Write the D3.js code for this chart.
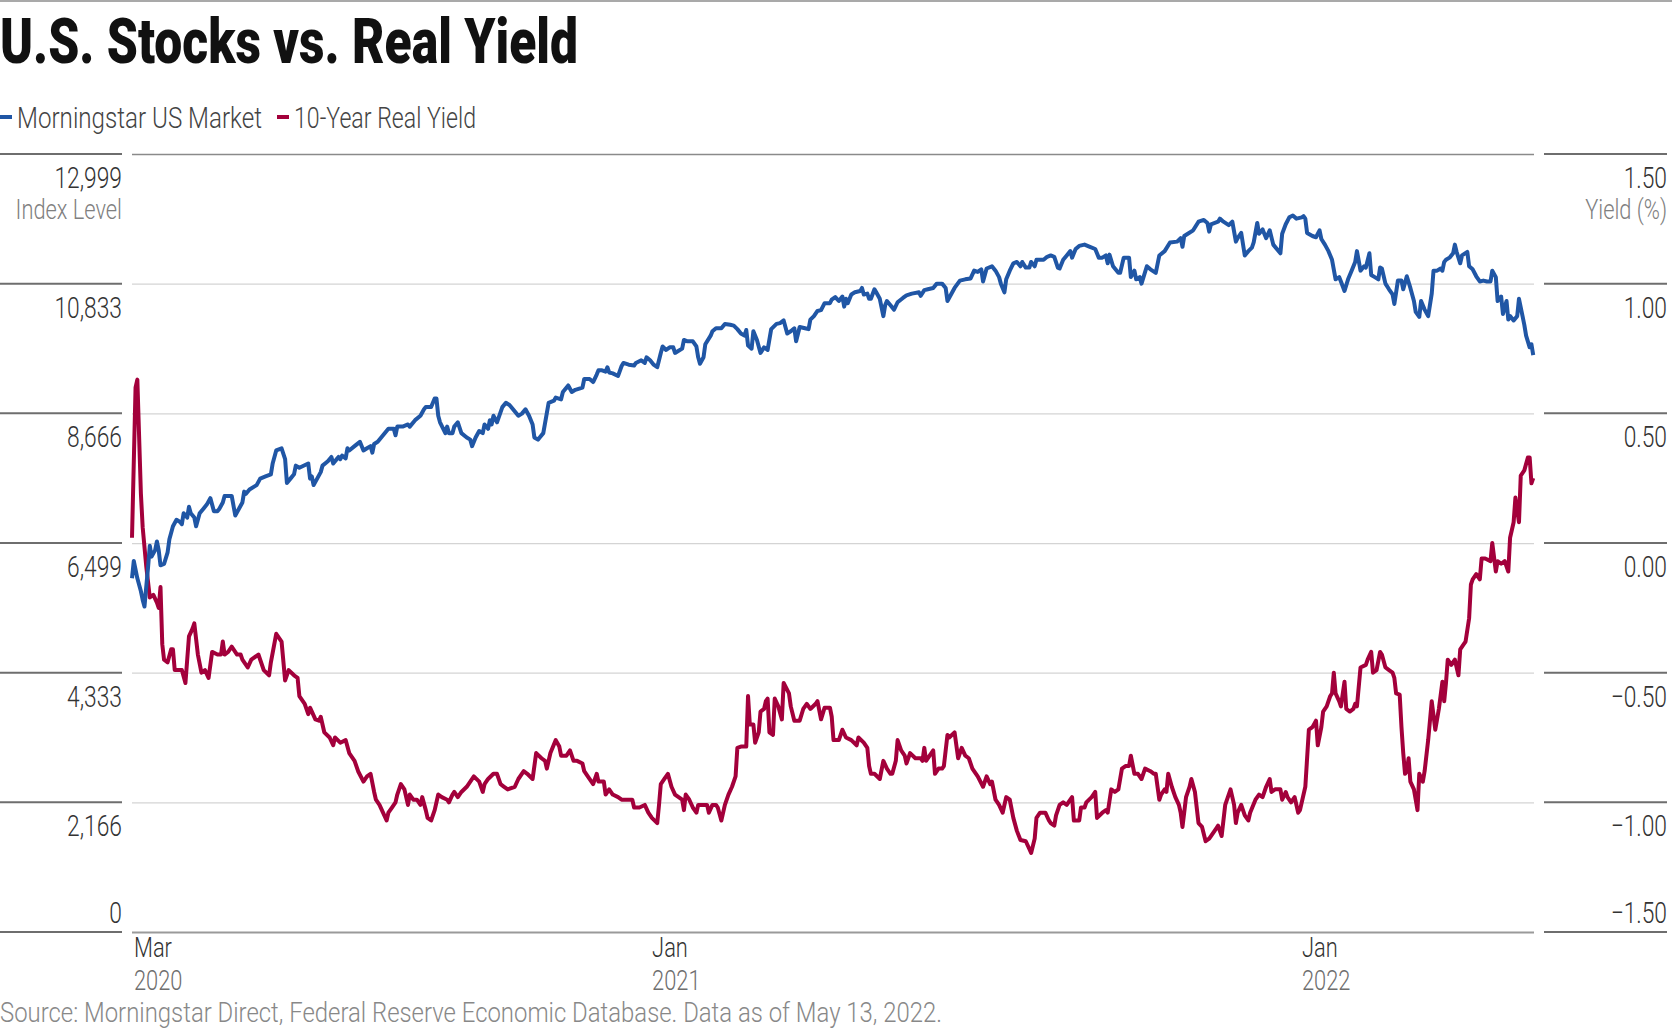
<!DOCTYPE html>
<html><head><meta charset="utf-8">
<script src="https://cdn.jsdelivr.net/npm/d3@7"></script>
<style>
body{margin:0;background:#fff}
svg{display:block}
text{font-family:Roboto,"Noto Sans","Liberation Sans",sans-serif}
</style>
</head><body>
<svg id="chart" width="1672" height="1029"></svg>
<script>
// ---------- DATA (day offset from START_DATE, value) ----------
const START_DATE = "2020-03-16";
const END_DATE = "2022-05-13";
const seriesNames = ["Morningstar US Market", "10-Year Real Yield"];
const stockSeries = [
[0,5910],[1,6199],[3,5910],[5,5693],[6,5548],[7,5439],[9,6091],[10,6453],[11,6272],[13,6380],[14,6525],[15,6380],[16,6127],[18,6149],[20,6344],[21,6561],[23,6779],[25,6887],[27,6851],[28,6815],[29,6996],[31,6924],[32,7105],[33,6996],[35,6924],[36,6779],[38,6996],[40,7068],[42,7141],[44,7249],[46,7032],[48,7032],[49,7068],[51,7177],[52,7286],[56,7286],[58,6960],[60,7068],[62,7177],[63,7358],[64,7322],[66,7394],[70,7467],[72,7575],[75,7611],[78,7647],[79,7828],[81,8046],[84,8082],[86,7901],[87,7503],[89,7575],[91,7647],[92,7792],[94,7756],[99,7828],[100,7575],[101,7611],[102,7467],[104,7575],[106,7684],[107,7792],[110,7865],[112,7937],[113,7828],[115,7901],[116,7937],[117,7901],[118,7959],[120,7915],[121,8082],[122,8046],[125,8118],[128,8190],[130,8046],
[132,8082],[134,8118],[135,8009],[136,8154],[138,8190],[141,8299],[144,8408],[147,8408],[148,8299],[149,8444],[152,8444],[155,8480],[156,8444],[159,8552],[162,8625],[164,8733],[165,8770],[168,8770],[170,8914],[171,8914],[172,8625],[173,8516],[176,8335],[177,8444],[178,8335],[180,8335],[181,8444],[183,8516],[185,8335],[188,8263],[190,8227],[191,8118],[193,8263],[195,8371],[197,8335],[198,8480],[200,8408],[201,8552],[202,8480],[203,8625],[205,8516],[208,8770],[210,8842],[212,8806],[214,8733],[217,8625],[219,8661],[221,8733],[223,8625],[225,8480],[226,8263],[228,8227],[229,8263],[231,8335],[234,8842],[237,8878],[238,8929],[241,8900],[242,9023],[245,9132],[247,9023],[249,9059],[253,9095],[254,9240],[257,9240],[259,9189],[261,9313],[262,9385],
[264,9385],[266,9363],[267,9436],[268,9349],[270,9334],[273,9291],[275,9457],[276,9508],[279,9479],[282,9465],[283,9508],[286,9552],[288,9508],[289,9602],[291,9552],[293,9479],[295,9436],[297,9675],[298,9783],[300,9725],[302,9769],[304,9769],[305,9675],[307,9711],[309,9747],[310,9892],[312,9870],[315,9870],[317,9783],[318,9602],[319,9494],[321,9602],[322,9820],[325,9964],[326,10037],[328,10087],[331,10087],[333,10160],[336,10145],[338,10131],[340,10073],[342,10000],[344,9964],[345,10058],[346,9798],[348,9747],[349,10037],[351,9892],[353,9675],[355,9769],[357,9725],[359,10073],[362,10160],[364,10174],[366,10218],[368,10000],[370,10037],[372,10087],[373,9870],[375,10109],[378,10087],[380,10073],[381,10232],[383,10290],[385,10377],[387,10391],[389,10507],[392,10507],[393,10565],[395,10609],
[397,10543],[399,10616],[400,10449],[401,10580],[402,10507],[404,10652],[406,10688],[409,10710],[410,10761],[411,10652],[413,10666],[414,10580],[415,10580],[417,10739],[418,10688],[420,10580],[422,10290],[423,10471],[424,10543],[426,10471],[428,10399],[430,10522],[433,10594],[435,10638],[438,10666],[442,10688],[443,10630],[445,10724],[447,10739],[450,10761],[452,10833],[455,10833],[457,10761],[458,10543],[460,10652],[462,10761],[465,10884],[468,10905],[471,10920],[473,11050],[475,11028],[477,11072],[478,10869],[480,11086],[483,11123],[485,11050],[487,10942],[488,10833],[490,10688],[491,10905],[493,11050],[495,11173],[497,11195],[499,11123],[500,11195],[502,11101],[504,11101],[505,11195],[507,11123],[508,11231],[512,11231],[514,11282],[516,11304],[518,11282],[520,11101],[521,11086],[523,11231],[525,11304],[527,11376],
[528,11267],[530,11412],[532,11463],[535,11485],[538,11448],[541,11412],[543,11267],[545,11267],[547,11304],[548,11173],[549,11318],[551,11123],[554,11014],[555,11014],[557,11267],[560,11267],[561,10942],[563,11050],[564,10905],[566,10942],[567,10833],[570,11123],[572,11072],[575,11014],[577,11304],[580,11376],[583,11521],[587,11535],[589,11593],[590,11448],[591,11629],[593,11666],[596,11724],[599,11868],[602,11897],[604,11847],[605,11702],[606,11825],[610,11868],[611,11919],[613,11868],[616,11810],[618,11868],[620,11535],[621,11593],[623,11680],[625,11304],[627,11376],[629,11435],[630,11521],[632,11847],[633,11666],[635,11739],[637,11593],[639,11724],[641,11485],[643,11412],[645,11340],[646,11666],[648,11825],[650,11941],[652,11970],[654,11919],[657,11941],[658,11960],
[659,11919],[660,11680],[663,11629],[665,11608],[667,11724],[668,11579],[670,11485],[672,11376],[674,11231],[676,10905],[678,10942],[679,10869],[681,10710],[683,10905],[685,11050],[687,11195],[688,11376],[690,11050],[692,11123],[693,11101],[695,11340],[696,10978],[698,10942],[700,10905],[701,11101],[702,11086],[704,10833],[706,10739],[708,10652],[709,10493],[711,10884],[713,10884],[714,10739],[716,10956],[718,10761],[720,10543],[721,10362],[723,10276],[724,10543],[726,10399],[728,10290],[730,10666],[731,11050],[733,11050],[735,11086],[736,11050],[737,11195],[738,11231],[740,11267],[742,11340],[743,11485],[744,11362],[746,11173],[747,11304],[750,11362],[751,11123],[753,11072],[755,10956],[757,10869],[759,10884],[761,10869],[763,10869],[764,11050],[766,10942],[767,10543],[769,10616],[770,10326],[772,10543],[773,10232],[774,10290],[776,10218],[778,10290],[779,10580],[781,10290],[782,10145],[783,9964],[785,9769],[786,9820],[787,9638]
];
const yieldSeries = [
[0,0.02],[2,0.60],[3,0.63],[5,0.19],[6,0.06],[8,-0.09],[10,-0.21],[12,-0.20],[14,-0.23],[15,-0.25],[16,-0.17],[17,-0.39],[18,-0.45],[20,-0.46],[22,-0.41],[23,-0.41],[24,-0.49],[28,-0.49],[30,-0.54],[32,-0.36],[34,-0.33],[35,-0.31],[37,-0.43],[39,-0.50],[41,-0.49],[43,-0.52],[45,-0.42],[48,-0.43],[50,-0.43],[51,-0.38],[52,-0.43],[54,-0.42],[56,-0.40],[59,-0.43],[61,-0.43],[62,-0.45],[65,-0.48],[67,-0.45],[71,-0.43],[74,-0.49],[77,-0.51],[78,-0.46],[81,-0.35],[84,-0.38],[86,-0.53],[88,-0.49],[91,-0.51],[93,-0.52],[94,-0.59],[97,-0.62],[99,-0.66],[100,-0.635],[103,-0.68],[105,-0.685],[106,-0.67],[108,-0.73],[111,-0.75],[113,-0.78],[114,-0.75],[117,-0.77],[120,-0.76],[122,-0.81],[125,-0.84],[127,-0.88],[130,-0.92],
[132,-0.90],[134,-0.89],[136,-0.96],[137,-0.99],[139,-1.01],[141,-1.04],[143,-1.07],[144,-1.04],[146,-1.02],[148,-1.00],[149,-0.97],[151,-0.93],[153,-0.95],[155,-1.01],[156,-0.97],[158,-0.99],[160,-0.99],[162,-1.01],[163,-0.98],[165,-1.03],[166,-1.06],[168,-1.07],[170,-1.03],[172,-0.97],[174,-0.98],[177,-0.99],[178,-1.00],[180,-0.97],[181,-0.96],[183,-0.98],[185,-0.96],[188,-0.94],[192,-0.90],[195,-0.92],[197,-0.96],[198,-0.93],[200,-0.91],[203,-0.89],[205,-0.89],[207,-0.93],[209,-0.94],[211,-0.95],[215,-0.94],[217,-0.91],[220,-0.88],[222,-0.89],[225,-0.91],[227,-0.81],[230,-0.83],[232,-0.84],[233,-0.87],[235,-0.81],[238,-0.76],[240,-0.785],[241,-0.82],[244,-0.82],[246,-0.80],[248,-0.84],[250,-0.84],[253,-0.85],[254,-0.88],[256,-0.90],[259,-0.93],[261,-0.89],[262,-0.92],
[265,-0.92],[266,-0.97],[268,-0.95],[270,-0.97],[273,-0.98],[275,-0.99],[278,-0.99],[281,-0.99],[282,-1.02],[285,-1.02],[288,-1.01],[290,-1.04],[292,-1.06],[295,-1.08],[296,-1.01],[297,-0.93],[299,-0.91],[301,-0.89],[303,-0.94],[305,-0.97],[307,-0.98],[309,-0.99],[310,-1.03],[311,-0.97],[313,-0.99],[315,-1.02],[317,-1.04],[318,-1.01],[320,-1.01],[323,-1.01],[324,-1.04],[326,-1.01],[328,-1.01],[329,-1.02],[331,-1.07],[333,-1.01],[335,-0.97],[337,-0.94],[339,-0.90],[340,-0.79],[342,-0.785],[345,-0.785],[346,-0.59],[347,-0.70],[349,-0.70],[350,-0.77],[352,-0.73],[353,-0.65],[355,-0.64],[356,-0.61],[357,-0.60],[358,-0.73],[360,-0.74],[361,-0.60],[363,-0.63],[365,-0.68],[366,-0.54],[369,-0.58],[370,-0.63],[372,-0.685],[375,-0.685],[377,-0.64],[379,-0.62],[381,-0.64],[384,-0.62],[385,-0.61],[387,-0.68],[389,-0.635],[392,-0.635],[393,-0.67],[394,-0.76],
[397,-0.76],[399,-0.72],[401,-0.75],[404,-0.76],[407,-0.78],[408,-0.75],[411,-0.77],[413,-0.79],[414,-0.86],[415,-0.89],[417,-0.89],[420,-0.91],[422,-0.84],[424,-0.87],[426,-0.89],[427,-0.89],[429,-0.84],[430,-0.76],[432,-0.80],[434,-0.82],[435,-0.85],[437,-0.81],[440,-0.83],[443,-0.83],[444,-0.84],[445,-0.79],[446,-0.84],[448,-0.82],[450,-0.80],[451,-0.89],[453,-0.87],[455,-0.87],[456,-0.86],[458,-0.74],[459,-0.75],[462,-0.73],[464,-0.83],[466,-0.79],[468,-0.82],[470,-0.83],[472,-0.87],[475,-0.90],[478,-0.94],[480,-0.90],[482,-0.93],[483,-0.92],[485,-0.99],[487,-1.01],[489,-1.04],[491,-0.98],[493,-0.99],[495,-1.06],[497,-1.11],[499,-1.145],[502,-1.15],[504,-1.18],[505,-1.195],[507,-1.14],[508,-1.06],[510,-1.04],[513,-1.04],[515,-1.07],[516,-1.08],[518,-1.09],[519,-1.05],[521,-1.01],[523,-1.00],[525,-1.01],[527,-0.99],
[528,-0.98],[529,-1.07],[532,-1.07],[533,-1.02],[535,-1.02],[536,-1.00],[539,-0.98],[541,-0.96],[542,-1.06],[545,-1.04],[547,-1.03],[548,-1.04],[550,-0.95],[552,-0.96],[554,-0.95],[556,-0.87],[558,-0.86],[560,-0.86],[561,-0.82],[563,-0.89],[565,-0.89],[567,-0.91],[569,-0.87],[572,-0.88],[574,-0.89],[575,-0.89],[577,-0.99],[578,-0.97],[580,-0.95],[581,-0.96],[582,-0.89],[584,-0.94],[586,-0.98],[588,-1.01],[589,-1.04],[590,-1.095],[592,-0.98],[594,-0.94],[595,-0.91],[597,-0.96],[599,-1.08],[601,-1.095],[603,-1.15],[605,-1.14],[606,-1.13],[609,-1.10],[610,-1.09],[612,-1.13],[614,-1.01],[617,-0.95],[619,-1.01],[620,-1.08],[621,-1.04],[623,-1.01],[625,-1.05],[627,-1.07],[628,-1.04],[631,-0.99],[633,-0.97],[635,-0.98],[637,-0.94],[639,-0.91],[640,-0.96],[642,-0.95],[645,-0.95],[646,-0.99],[648,-0.96],[649,-0.98],[651,-1.00],[653,-0.98],[655,-1.04],[656,-1.03],[658,-0.97],
[659,-0.94],[661,-0.72],[663,-0.71],[665,-0.685],[666,-0.78],[668,-0.71],[669,-0.65],[671,-0.63],[673,-0.59],[674,-0.58],[675,-0.50],[676,-0.58],[678,-0.61],[679,-0.63],[681,-0.535],[682,-0.64],[684,-0.65],[686,-0.64],[687,-0.62],[688,-0.63],[690,-0.48],[693,-0.47],[694,-0.45],[696,-0.42],[697,-0.50],[699,-0.49],[701,-0.42],[702,-0.43],[704,-0.48],[706,-0.49],[708,-0.50],[709,-0.52],[710,-0.58],[712,-0.585],[713,-0.71],[714,-0.81],[715,-0.89],[716,-0.88],[717,-0.83],[718,-0.92],[720,-0.95],[721,-0.99],[722,-1.03],[723,-0.89],[725,-0.92],[726,-0.88],[728,-0.76],[730,-0.61],[732,-0.72],[734,-0.64],[736,-0.535],[737,-0.61],[738,-0.54],[739,-0.45],[741,-0.47],[743,-0.45],[745,-0.51],[746,-0.41],[748,-0.39],[749,-0.38],[751,-0.29],[752,-0.16],[753,-0.14],[755,-0.12],[757,-0.14],[758,-0.06],[760,-0.06],[763,-0.07],[764,0.00],[766,-0.11],[767,-0.07],[769,-0.08],[771,-0.07],[773,-0.11],[774,0.02],[776,0.08],[777,0.175],[779,0.08],[780,0.26],[782,0.28],[784,0.33],[785,0.33],[786,0.23],[787,0.25]
];
const leftTicks = [0, 2166, 4333, 6499, 8666, 10833, 12999];
const rightTicks = [-1.5, -1.0, -0.5, 0, 0.5, 1.0, 1.5];
const xTicks = [
  {date: "2020-03-16", month: "Mar", year: "2020"},
  {date: "2021-01-01", month: "Jan", year: "2021"},
  {date: "2022-01-01", month: "Jan", year: "2022"}
];
const titleText = "U.S. Stocks vs. Real Yield";
const leftAxisTitle = "Index Level";
const rightAxisTitle = "Yield (%)";
const sourceText = "Source: Morningstar Direct, Federal Reserve Economic Database. Data as of May 13, 2022.";

// ---------- LAYOUT ----------
const W = 1672, H = 1029;
const plot = {left: 132, right: 1535, top: 154, bottom: 932};
const COND = 0.76;                // horizontal condensing for light labels
const BLUE = "#2056a5", RED = "#a3003b";
const svg = d3.select("#chart");
const parse = d3.timeParse("%Y-%m-%d");
const start = parse(START_DATE);
const toDate = d => d3.timeDay.offset(start, d);

const x = d3.scaleTime().domain([start, parse(END_DATE)]).range([plot.left, plot.right]);
const yL = d3.scaleLinear().domain([0, 12999]).range([plot.bottom, plot.top]);
const yR = d3.scaleLinear().domain([-1.5, 1.5]).range([plot.bottom, plot.top]);

function label(g, px, py, str, o) {
  o = o || {};
  return g.append("text")
    .attr("transform", `translate(${px},${py}) scale(${o.cond || COND},1)`)
    .attr("text-anchor", o.anchor || "start")
    .attr("font-size", o.size || 30)
    .attr("font-weight", o.weight || 300)
    .attr("fill", o.fill || "#333")
    .text(str);
}
// tick labels sit just below their line, except the lowest one, which sits above it
const labelY = (yy, isMin) => isMin ? yy - 9 : yy + 34;

// top rule
svg.append("line").attr("x1", 0).attr("x2", W).attr("y1", 1).attr("y2", 1)
  .attr("stroke", "#8c8c8c").attr("stroke-width", 1.5);

// title
svg.append("text").attr("x", 0).attr("y", 63).text(titleText)
  .attr("font-size", 63).attr("font-weight", 900).attr("fill", "#111")
  .attr("textLength", 578).attr("lengthAdjust", "spacingAndGlyphs");

// legend
const legend = svg.append("g");
const legendItems = [
  {name: seriesNames[0], color: BLUE, x: 0, w: 245},
  {name: seriesNames[1], color: RED, x: 277, w: 182}
];
legendItems.forEach(it => {
  legend.append("line").attr("x1", it.x).attr("x2", it.x + 12).attr("y1", 117).attr("y2", 117)
    .attr("stroke", it.color).attr("stroke-width", 4);
  legend.append("text").attr("x", it.x + 17).attr("y", 128).text(it.name)
    .attr("font-size", 29).attr("font-weight", 300).attr("fill", "#444")
    .attr("textLength", it.w).attr("lengthAdjust", "spacingAndGlyphs");
});

// gridlines through a d3 axis
const grid = svg.append("g").attr("transform", `translate(${plot.left},0)`)
  .call(d3.axisLeft(yL).tickValues(leftTicks).tickSize(-(plot.right - plot.left - 1)).tickFormat(""));
grid.select(".domain").remove();
grid.selectAll(".tick line")
  .attr("stroke", d => d === 12999 ? "#8a8a8a" : (d === 0 ? "#9a9a9a" : "#d4d4d4"))
  .attr("stroke-width", d => d === 0 ? 2 : (d === 12999 ? 1.3 : 1.2));

// left axis stubs + labels
const leftAx = svg.append("g");
leftTicks.forEach((v, i) => {
  const yy = yL(v);
  leftAx.append("line").attr("x1", 0).attr("x2", 122).attr("y1", yy).attr("y2", yy)
    .attr("stroke", "#6e6e6e").attr("stroke-width", 2);
  label(leftAx, 122, labelY(yy, i === 0), d3.format(",")(v), {anchor: "end"});
});
label(leftAx, 122, yL(12999) + 65, leftAxisTitle, {anchor: "end", fill: "#808080", size: 28, cond: 0.78});

// right axis stubs + labels
const rightAx = svg.append("g");
const fmtR = v => (v < 0 ? "\u2212" : "") + d3.format(".2f")(Math.abs(v));
rightTicks.forEach((v, i) => {
  const yy = yR(v);
  rightAx.append("line").attr("x1", 1544).attr("x2", 1667).attr("y1", yy).attr("y2", yy)
    .attr("stroke", "#6e6e6e").attr("stroke-width", 2);
  label(rightAx, 1667, labelY(yy, i === 0), fmtR(v), {anchor: "end"});
});
label(rightAx, 1667, yR(1.5) + 65, rightAxisTitle, {anchor: "end", fill: "#808080", size: 28, cond: 0.78});

// x labels
const xAx = svg.append("g");
xTicks.forEach(t => {
  const xx = x(parse(t.date)) + 2;
  label(xAx, xx, 957, t.month, {fill: "#333", size: 28, cond: 0.78});
  label(xAx, xx, 990, t.year, {fill: "#6e6e6e", size: 28, cond: 0.78});
});

// lines
const lineL = d3.line().x(d => x(toDate(d[0]))).y(d => yL(d[1]));
const lineR = d3.line().x(d => x(toDate(d[0]))).y(d => yR(d[1]));
svg.append("path").datum(yieldSeries).attr("d", lineR)
  .attr("fill", "none").attr("stroke", RED).attr("stroke-width", 4).attr("stroke-linejoin", "round");
svg.append("path").datum(stockSeries).attr("d", lineL)
  .attr("fill", "none").attr("stroke", BLUE).attr("stroke-width", 4).attr("stroke-linejoin", "round");

// source
svg.append("text").attr("x", 0).attr("y", 1022).text(sourceText)
  .attr("font-size", 27).attr("font-weight", 300).attr("fill", "#888")
  .attr("textLength", 942).attr("lengthAdjust", "spacingAndGlyphs");
</script>
</body></html>
